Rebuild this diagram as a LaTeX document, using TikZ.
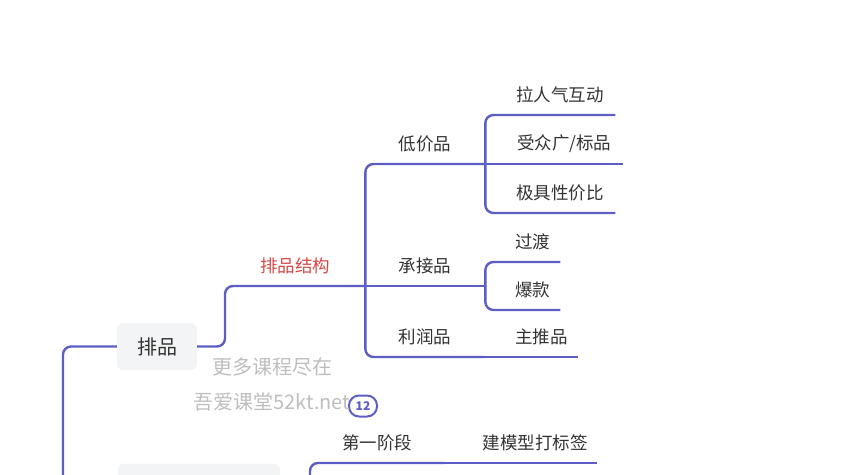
\documentclass[tikz,border=0pt]{standalone}
\usepackage{fontspec}
\setmainfont{Noto Sans CJK SC}
\definecolor{branch}{RGB}{92,94,196}
\definecolor{ink}{RGB}{51,51,51}
\definecolor{redtext}{RGB}{214,72,68}
\definecolor{boxgray}{RGB}{243,244,245}
\definecolor{wmgray}{RGB}{190,190,190}

\begin{document}
\begin{tikzpicture}[x=1pt,y=-1pt,
	link/.style={draw=branch,line width=2.4pt,rounded corners=8pt},
	topic/.style={anchor=south west,minimum height=40pt,inner sep=0,text=ink,font=\fontsize{17.5}{20}\selectfont},
	rootbox/.style={fill=boxgray,rounded corners=6pt,minimum width=80pt,minimum height=47pt,inner sep=0,text=ink,font=\fontsize{20}{24}\selectfont},
	wmtext/.style={text=wmgray,inner sep=0,font=\fontsize{20}{24}\selectfont},
	badge/.style={draw=branch,line width=2pt,fill=white,rounded corners=10pt,minimum width=28pt,minimum height=21pt,inner sep=0,text=branch,font=\fontsize{12}{13}\selectfont\bfseries}]
	\useasboundingbox (0,0) rectangle (850,474);
	\clip (0,0) rectangle (850,474);
	\node[rootbox] (root) at (157,346.5) {排品};
	\node[rootbox,minimum width=162pt] (stage) at (199,487) {};
	\node[topic,minimum width=140pt,text=redtext] (jg) at (225,286) {排品结构};
	\node[topic,minimum width=120pt] (dj) at (365,164) {低价品};
	\node[topic,minimum width=120pt] (cj) at (365,286) {承接品};
	\node[topic,minimum width=120pt] (lr) at (365,357) {利润品};
	\node[topic,minimum width=110pt] (dj1) at (505,115) {拉人气互动};
	\node[topic,minimum width=118pt] (dj2) at (505,164) {受众广/标品};
	\node[topic,minimum width=110pt] (dj3) at (505,213) {极具性价比};
	\node[topic,minimum width=55pt] (cj1) at (505,262) {过渡};
	\node[topic,minimum width=55pt] (cj2) at (505,310) {爆款};
	\node[topic,minimum width=73pt] (lr1) at (505,357) {主推品};
	\node[topic,minimum width=134pt] (p1) at (310,463) {第一阶段};
	\node[topic,minimum width=124pt] (p1a) at (473,463) {建模型打标签};
	\coordinate (down) at (63,520);
	\coordinate (up) at (310,520);
	\draw[link] (root.west) -| (down);
	\draw[link] (root.east) -- (225,346.5) -- (jg.south west) -- (jg.south east);
	\draw[link] (jg.south east) |- (dj.south east);
	\draw[link] (jg.south east) -- (cj.south east);
	\draw[link] (jg.south east) |- (lr.south east);
	\draw[link] (dj.south east) |- (dj1.south east);
	\draw[link] (dj.south east) -- (dj2.south east);
	\draw[link] (dj.south east) |- (dj3.south east);
	\draw[link] (cj.south east) |- (cj1.south east);
	\draw[link] (cj.south east) |- (cj2.south east);
	\draw[link] (lr.south east) -- (lr1.south east);
	\draw[link] (up) |- (p1.south east);
	\draw[link] (p1.south east) -- (p1a.south east);
	\node[badge] (more) at (363,406) {12};
	\node[wmtext] (wm1) at (272,367) {更多课程尽在};
	\node[wmtext] (wm2) at (272,402) {吾爱课堂52kt.net};
\end{tikzpicture}
\end{document}
